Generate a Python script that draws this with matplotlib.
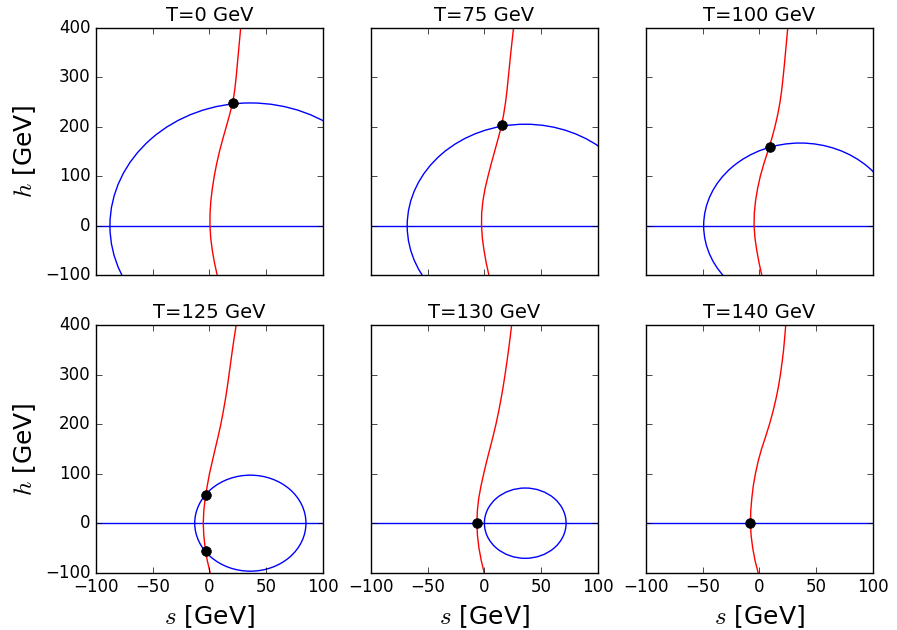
import matplotlib
matplotlib.use("Agg")
import matplotlib.pyplot as plt
from matplotlib.patches import Ellipse
import numpy as np

plt.style.use('classic')
plt.rcParams['figure.facecolor'] = 'white'
plt.rcParams['savefig.facecolor'] = 'white'

temps = [0, 75, 100, 125, 130, 140]

h_grid = [-100, -75, -50, -25, 0, 25, 50, 75, 100, 125, 150,
          175, 200, 225, 250, 275, 300, 325, 350, 375, 400]

s_T0 = [6.8, 4.4, 2.5, 1.1, 0.4, 0.5, 1.2, 2.5, 4.2, 6.3, 8.8,
        11.7, 14.8, 17.8, 20.6, 22.3, 23.5, 24.5, 25.5, 26.5, 27.5]
s_T75 = [4.0, 1.6, -0.3, -1.8, -2.5, -2.4, -1.3, 0.6, 3.2, 6.0, 9.0,
         12.0, 14.9, 17.0, 18.7, 20.0, 21.1, 22.2, 23.3, 24.5, 25.7]
s_T100 = [2.2, -0.2, -2.2, -3.8, -4.6, -4.4, -3.3, -1.5, 0.9, 4.0, 7.5,
          10.9, 13.8, 16.3, 18.3, 19.8, 21.0, 22.1, 23.1, 24.1, 25.1]
s_T125 = [0.6, -2.0, -3.8, -5.0, -5.5, -5.0, -3.8, -2.0, 0.0, 2.5, 5.0,
          7.6, 10.0, 12.1, 14.0, 15.7, 17.2, 18.7, 20.2, 21.8, 23.5]
s_T130 = [-0.2, -2.8, -4.8, -6.1, -6.6, -6.2, -5.0, -3.0, -0.6, 2.0, 4.8,
          7.6, 10.2, 12.5, 14.6, 16.5, 18.2, 19.8, 21.3, 22.7, 24.0]
s_T140 = [-1.0, -3.8, -5.8, -7.2, -7.8, -7.5, -6.6, -5.3, -3.4, -1.0, 2.0,
          5.6, 9.0, 12.0, 14.6, 16.8, 18.6, 20.1, 21.4, 22.4, 23.3]
red_curves = [s_T0, s_T75, s_T100, s_T125, s_T130, s_T140]

# blue contour: h = 0 line plus an ellipse centred at (s0, 0)
s_center = 36
semi_s = [123.7, 104, 85, 49, 36, 0]
semi_h = [248, 205, 167, 97, 71, 0]
h_line = 0

# extrema (black dots)
dots_s = [[20.4], [15.2], [9.3], [-3.4, -3.4], [-6.6], [-7.8]]
dots_h = [[247], [203], [160], [57, -57], [0], [0]]

fig, axes = plt.subplots(2, 3, sharex=True, sharey=True, figsize=(8.97, 6.3), dpi=100)
plt.subplots_adjust(left=0.107, right=0.973, top=0.956, bottom=0.091,
                    wspace=0.211, hspace=0.202)

for i, ax in enumerate(axes.flat):
    ax.axhline(h_line, color='b', lw=1)
    if semi_s[i] > 0:
        ax.add_patch(Ellipse((s_center, 0), 2 * semi_s[i], 2 * semi_h[i],
                             fill=False, edgecolor='b', lw=1))
    ax.plot(red_curves[i], h_grid, color='r', lw=1)
    ax.plot(dots_s[i], dots_h[i], 'o', color='k', markersize=7, zorder=5)
    ax.set_title("T=%d GeV" % temps[i], fontsize=14)
    ax.set_xlim(-100, 100)
    ax.set_ylim(-100, 400)
    ax.set_xticks([-100, -50, 0, 50, 100])
    ax.set_yticks([-100, 0, 100, 200, 300, 400])

for ax in axes[:, 0]:
    ax.set_ylabel("$h$ [GeV]", fontsize=18)
for ax in axes[1, :]:
    ax.set_xlabel("$s$ [GeV]", fontsize=18)

plt.savefig("out.png", dpi=100)
